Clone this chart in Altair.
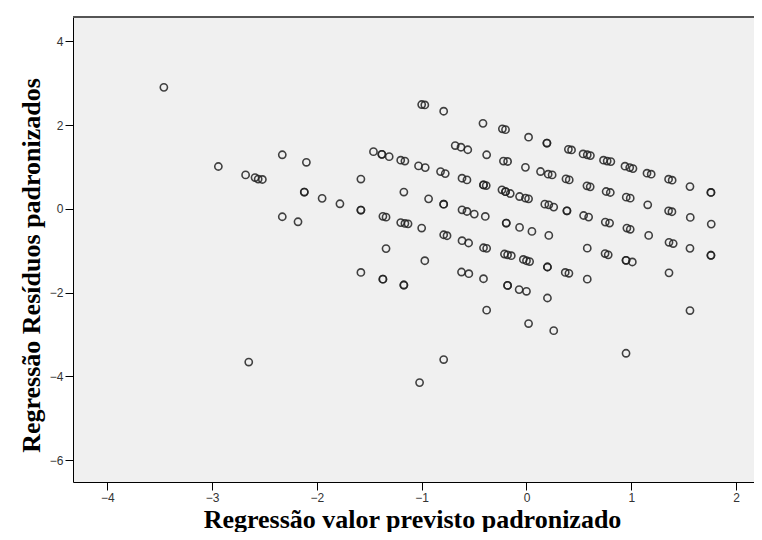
import altair as alt
import pandas as pd

# Regression standardized predicted value (x) and standardized residual (y)
pred = [
    -3.46, -2.94, -2.68, -2.59, -2.56, -2.52, -2.33, -2.10, -2.12, -2.12,
    -1.95, -1.78, -1.58, -1.58, -1.58, -2.33, -2.18, -1.46, -1.38, -1.38,
    -1.31, -1.20, -1.16, -1.17, -1.37, -1.34, -1.20, -1.16, -1.13, -1.34,
    -1.58, -1.37, -1.37, -1.17, -1.17, -2.65, -0.97, -1.02, -0.79, -0.62,
    -0.55, -0.41, -0.38, -0.41, -0.38, -0.21, -0.18, -0.145, -0.18, -0.18,
    -0.07, 0.00, 0.02, -0.03, 0.00, 0.03, 0.20, 0.20, 0.20, 0.26,
    0.37, 0.405, 0.58, 0.58, 0.75, 0.78, 0.95, 0.95, 1.01, 0.95,
    1.36, 1.36, 1.40, 1.56, 1.56, 1.76, 1.76,
    -1.00, -0.97, -0.79, -0.415, -0.23, -0.20, 0.02, 0.195, 0.195, 0.40,
    0.43, 0.54, 0.58, 0.61, 0.735, 0.77, 0.805, 0.94, 0.985, 1.016,
    1.15, 1.19, 1.356, 1.39, 1.56, 1.76, 1.76,
    -0.68, -0.625, -0.56, -0.38, -0.22, -0.18, -0.01, 0.134, 0.207, 0.245,
    0.377, 0.408, 0.577, 0.608, 0.76, 0.80, 0.952, 0.99, 1.157, 1.356,
    1.388, 1.563, 1.763,
    -1.03, -0.966, -0.82, -0.775, -0.615, -0.568, -0.41, -0.41, -0.384, -0.234,
    -0.20, -0.20, -0.155, -0.066, -0.01, 0.02, 0.175, 0.213, 0.26, 0.386,
    0.386, 0.545, 0.593, 0.752, 0.793, 0.958, 0.99, 1.166,
    -0.934, -0.79, -0.79, -0.615, -0.568, -0.498, -0.393, -0.193, -0.193, -0.066,
    0.052, 0.213,
    -1.00, -0.79, -0.758, -0.615, -0.552,
]
resid = [
    2.90, 1.01, 0.81, 0.745, 0.71, 0.70, 1.29, 1.11, 0.40, 0.40,
    0.25, 0.12, 0.71, -0.03, -0.03, -0.19, -0.31, 1.365, 1.30, 1.30,
    1.245, 1.16, 1.14, 0.40, -0.18, -0.20, -0.33, -0.35, -0.36, -0.95,
    -1.52, -1.68, -1.68, -1.82, -1.82, -3.66, -1.24, -4.15, -3.60, -1.51,
    -1.55, -1.67, -2.42, -0.93, -0.945, -1.08, -1.10, -1.12, -1.83, -1.83,
    -1.93, -1.97, -2.74, -1.21, -1.24, -1.26, -1.39, -1.39, -2.13, -2.91,
    -1.52, -1.54, -0.94, -1.68, -1.07, -1.10, -1.23, -1.23, -1.27, -3.45,
    -1.53, -0.80, -0.83, -0.945, -2.43, -1.11, -1.11,
    2.49, 2.48, 2.33, 2.04, 1.91, 1.89, 1.71, 1.57, 1.57, 1.42,
    1.405, 1.31, 1.29, 1.27, 1.16, 1.14, 1.127, 1.017, 0.984, 0.96,
    0.85, 0.826, 0.707, 0.683, 0.53, 0.39, 0.39,
    1.51, 1.47, 1.41, 1.29, 1.14, 1.13, 0.99, 0.89, 0.826, 0.81,
    0.714, 0.69, 0.548, 0.524, 0.413, 0.389, 0.278, 0.254, 0.095, -0.048,
    -0.07, -0.206, -0.365,
    1.024, 0.984, 0.889, 0.84, 0.73, 0.69, 0.57, 0.57, 0.555, 0.452,
    0.41, 0.41, 0.365, 0.293, 0.254, 0.238, 0.111, 0.095, 0.04, -0.048,
    -0.048, -0.16, -0.198, -0.317, -0.34, -0.46, -0.49, -0.635,
    0.238, 0.11, 0.11, -0.024, -0.064, -0.127, -0.183, -0.34, -0.34, -0.444,
    -0.54, -0.635,
    -0.46, -0.62, -0.643, -0.762, -0.817,
]

x_ticks = [-4, -3, -2, -1, 0, 1, 2]
y_ticks = [-6, -4, -2, 0, 2, 4]
x_title = "Regressão valor previsto padronizado"
y_title = "Regressão Resíduos padronizados"

df = pd.DataFrame({"x": pred, "y": resid})

label_font = "Liberation Sans Narrow, Liberation Sans, Arial"
title_font = "Liberation Serif, Times New Roman, serif"

W, H = 681, 465

points = (
    alt.Chart(df)
    .mark_point(shape="circle", filled=False, size=52, strokeWidth=1.6,
                color="#222222", opacity=0.85)
    .encode(
        x=alt.X("x:Q",
                scale=alt.Scale(domain=[-4.327, 2.171], nice=False, zero=False),
                axis=alt.Axis(values=x_ticks, title=x_title, grid=False,
                              tickSize=8, labelPadding=2, labelFontSize=12,
                              labelFont=label_font, labelColor="#333333",
                              domainColor="#000000", tickColor="#000000",
                              titleFont=title_font, titleFontSize=26,
                              titleFontWeight="bold", titleColor="#000000",
                              titleX=339, titleY=45, titleAlign="center",
                              titleBaseline="alphabetic")),
        y=alt.Y("y:Q",
                scale=alt.Scale(domain=[-6.524, 4.58], nice=False, zero=False),
                axis=alt.Axis(values=y_ticks, title=y_title, grid=False,
                              tickSize=8, labelPadding=2, labelFontSize=12,
                              labelFont=label_font, labelColor="#333333",
                              domainColor="#000000", tickColor="#000000",
                              titleFont=title_font, titleFontSize=26,
                              titleFontWeight="bold", titleColor="#000000",
                              titleX=-34, titleY=248, titleAngle=270,
                              titleAlign="center", titleBaseline="alphabetic")),
    )
)

top_border = alt.Chart(df).mark_rule(color="#555555", strokeWidth=2).encode(
    x=alt.value(0), x2=alt.value(W), y=alt.value(0)
)

chart = (
    alt.layer(points, top_border)
    .properties(
        width=W, height=H,
        autosize=alt.AutoSizeParams(type="none"),
        padding={"left": 65, "top": 9, "right": 0, "bottom": 50},
        background="#ffffff",
    )
    .configure_view(fill="#f0f0f0", strokeWidth=0)
)

chart.save("out.html", embed_options={"renderer": "svg", "actions": False})
